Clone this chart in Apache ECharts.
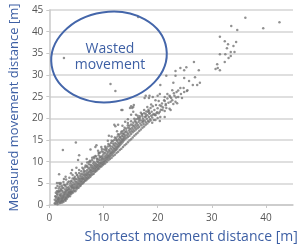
<!DOCTYPE html>
<html><head><meta charset="utf-8">
<script src="https://cdn.jsdelivr.net/npm/echarts@6/dist/echarts.min.js"></script>
<style>html,body{margin:0;padding:0;background:#fff}#c{width:300px;height:252px}</style>
</head><body><div id="c"></div>
<script>
var xTicks = [0, 10, 20, 30, 40];
var yTicks = [0, 5, 10, 15, 20, 25, 30, 35, 40, 45];
var xName = 'Shortest movement distance [m]';
var yName = 'Measured movement distance [m]';
var noteText = ['Wasted', 'movement'];

// main band of trips (shortest vs measured)
var bandPoints = [
[1.0,0.4],[1.0,1.2],[1.1,2.0],[1.2,0.8],[1.2,2.8],[1.3,1.5],[1.4,0.5],[1.4,3.2],[1.5,1.1],[1.5,2.3],[1.6,0.7],[1.6,1.8],[1.7,2.9],[1.7,3.8],[1.8,0.9],[1.8,1.6],[1.9,2.4],[1.9,4.2],[2.0,0.6],[2.0,1.3],[2.0,3.1],[2.1,2.0],[2.1,3.7],[2.2,0.9],[2.2,1.7],[2.2,2.6],[2.3,4.4],[2.3,1.2],[2.4,2.2],[2.4,3.3],[2.5,1.0],[2.5,1.8],[2.5,2.9],[2.6,3.9],[2.6,1.5],[2.7,2.4],[2.7,4.7],[2.8,1.9],[2.8,3.0],[2.9,1.3],[2.9,3.6],[3.0,2.2],[3.0,2.8],[3.0,4.3],[3.1,1.7],[3.1,3.2],[3.2,2.5],[3.2,3.9],[3.3,2.0],[3.3,4.8],[3.4,2.9],[3.4,3.5],[3.5,2.3],[3.5,4.1],[3.6,3.0],[3.6,5.4],[3.7,2.7],[3.7,3.8],[3.8,4.5],[3.8,3.2],[3.9,2.9],[3.9,5.0],[4.0,3.5],[4.0,4.2],[4.1,3.0],[4.1,5.6],[4.2,3.9],[4.2,4.7],[4.3,3.3],[4.3,6.1],[4.4,4.1],[4.4,5.2],[4.5,3.7],[4.5,4.6],[4.6,5.8],[4.6,4.0],[4.7,4.9],[4.7,6.5],[4.8,4.3],[4.8,5.4],[4.9,3.9],[4.9,6.0],[5.0,4.7],[5.0,5.3],[5.1,4.2],[5.1,7.0],[5.2,5.0],[5.2,5.9],[5.3,4.5],[5.3,6.4],[5.4,5.5],[5.4,4.9],[5.5,6.1],[5.5,7.4],[5.6,5.2],[5.6,5.8],[5.7,4.8],[5.7,6.7],[5.8,5.6],[5.8,6.2],[5.9,7.8],[5.9,5.3],[6.0,6.0],[6.0,6.6],[6.1,5.5],[6.1,7.2],[6.2,6.3],[6.2,5.9],[6.3,6.9],[6.3,8.3],[6.4,6.1],[6.4,7.5],[6.5,5.8],[6.5,6.7],[6.6,7.1],[6.6,8.7],[6.7,6.4],[6.7,7.8],[6.8,6.9],[6.8,6.2],[6.9,7.4],[6.9,9.0],[7.0,6.8],[7.0,8.1],[7.1,7.2],[7.1,6.5],[7.2,7.7],[7.2,8.6],[7.3,7.0],[7.3,9.4],[7.4,7.5],[7.4,8.3],[7.5,6.9],[7.5,7.9],[7.6,8.7],[7.6,10.0],[7.7,7.4],[7.7,8.1],[7.8,9.1],[7.8,7.8],[7.9,8.5],[7.9,10.4],[8.0,7.7],[8.0,8.9],[8.1,8.2],[8.1,9.6],[8.2,7.9],[8.2,8.6],[8.3,9.3],[8.3,10.8],[8.4,8.4],[8.4,9.0],[8.5,9.7],[8.5,8.1],[8.6,8.8],[8.6,11.2],[8.7,9.4],[8.7,8.5],[8.8,10.1],[8.8,9.1],[8.9,8.7],[8.9,10.6],[9.0,9.3],[9.0,9.9],[9.1,8.9],[9.1,11.5],[9.2,9.6],[9.2,10.4],[9.3,9.1],[9.3,10.9],[9.4,9.8],[9.4,12.1],[9.5,9.4],[9.5,10.3],[9.6,11.0],[9.6,9.7],[9.7,10.6],[9.7,12.4],[9.8,10.0],[9.8,11.3],[9.9,9.6],[9.9,10.8],[10.0,10.3],[10.0,11.7],[10.1,9.9],[10.1,12.8],
[10.2,10.6],[10.2,11.2],[10.3,10.1],[10.3,12.0],[10.4,10.9],[10.4,13.2],[10.5,10.4],[10.5,11.5],[10.6,11.0],[10.6,12.4],[10.7,10.7],[10.7,11.8],[10.8,11.3],[10.8,13.5],[10.9,10.9],[10.9,12.2],[11.0,11.5],[11.0,12.7],[11.1,11.1],[11.1,13.9],[11.2,11.8],[11.2,12.4],[11.3,11.3],[11.3,13.1],[11.4,12.0],[11.4,14.3],[11.5,11.6],[11.5,12.8],[11.6,12.3],[11.6,13.5],[11.7,11.9],[11.7,14.7],[11.8,12.6],[11.8,13.2],[11.9,12.2],[11.9,13.9],[12.0,12.9],[12.0,15.0],[12.1,12.5],[12.1,13.6],[12.2,13.1],[12.2,14.3],[12.3,12.7],[12.3,15.4],[12.4,13.4],[12.4,14.0],[12.5,13.0],[12.5,14.8],[12.6,13.7],[12.6,15.8],[12.7,13.3],[12.7,14.4],[12.8,14.0],[12.8,15.2],[12.9,13.6],[12.9,16.2],[13.0,14.3],[13.0,14.9],[13.1,13.9],[13.1,15.6],[13.2,14.6],[13.2,16.5],[13.3,14.2],[13.3,15.3],[13.4,14.9],[13.4,16.0],[13.5,14.5],[13.5,17.0],[13.6,15.2],[13.6,15.8],[13.7,14.8],[13.7,16.4],[13.8,15.5],[13.8,17.3],[13.9,15.1],[13.9,16.2],[14.0,15.8],[14.0,16.8],[14.2,15.4],[14.2,17.6],[14.3,16.1],[14.4,16.7],[14.5,15.7],[14.5,17.9],[14.6,16.4],[14.7,17.2],[14.8,16.0],[14.8,18.3],[14.9,16.8],[15.0,17.5],[15.1,16.4],[15.1,18.6],[15.2,17.1],[15.3,17.8],[15.4,16.8],[15.5,19.0],[15.5,17.4],[15.6,18.2],[15.7,17.1],[15.8,19.4],[15.8,17.8],[15.9,18.5],[16.0,17.4],[16.1,19.8],[16.1,18.1],[16.2,18.8],[16.3,17.7],[16.4,20.1],[16.4,18.4],[16.5,19.2],[16.6,18.0],[16.7,20.5],[16.8,18.8],[16.9,19.5],[17.0,18.4],[17.1,20.8],[17.2,19.1],[17.3,19.9],[17.4,18.7],[17.5,21.2],[17.6,19.5],[17.7,20.3],[17.8,19.1],[17.9,21.6],[18.0,19.9],[18.1,20.7],[18.2,19.4],[18.3,22.0],[18.4,20.3],[18.5,21.1],[18.6,19.8],[18.7,22.4],[18.8,20.6],[18.9,21.5],[19.0,20.2],[19.1,22.8],[19.3,21.0],[19.4,21.9],[19.6,20.7],[19.7,23.1],[19.9,21.4],[20.0,22.3],[20.2,21.2],[20.4,23.0],[20.6,22.0],[20.8,23.4],[21.0,22.5],[21.2,24.2],[21.5,23.0],[21.8,24.6],[22.0,23.6],[22.3,25.0],[22.7,24.2],[23.0,25.8],[23.4,24.8],[23.8,26.4],[24.3,25.6],[24.8,27.0],[25.4,26.3]
];

// lower and upper edges of the band
var bandEdgePoints = [
[1.1,0.3],[1.3,0.9],[1.5,0.2],[1.7,1.2],[1.9,0.4],[2.1,0.8],[2.3,0.5],[2.4,1.5],[2.6,0.7],[2.8,1.1],[3.0,1.0],[3.2,1.4],[3.4,1.8],[3.6,2.1],[3.8,2.0],[4.0,2.5],[4.2,2.8],[4.4,2.9],[4.6,3.3],[4.8,3.2],[5.0,3.6],[5.2,3.9],[5.4,4.0],[5.6,4.3],[5.8,4.5],[6.0,4.9],[6.2,5.0],[6.4,5.3],[6.6,5.6],[6.8,5.7],[7.0,6.0],[7.2,6.2],[7.4,6.4],[7.6,6.6],[7.8,6.9],[8.0,7.1],[8.2,7.2],[8.4,7.6],[8.6,7.8],[8.8,8.0],[9.0,8.3],[9.2,8.4],[9.4,8.8],[9.6,8.9],[9.8,9.2],[10.0,9.4],[10.3,9.6],[10.6,9.9],[10.9,10.3],[11.2,10.6],[11.5,10.9],[11.8,11.3],[12.1,11.6],[12.4,12.0],[12.7,12.3],[13.0,12.7],[13.3,13.0],[13.6,13.4],[13.9,13.8],[14.2,14.1],[14.5,14.5],[14.8,14.9],[15.1,15.2],[15.4,15.6],[15.7,16.0],[16.0,16.3],[16.3,16.7],[16.6,17.1],[16.9,17.4],[17.2,17.8],[17.5,18.1],[17.8,18.5],[18.1,18.8],[18.4,19.2],[18.7,19.5],[19.0,19.0],[19.3,19.6],
[1.2,3.9],[1.5,4.4],[1.6,3.1],[2.0,4.8],[2.4,4.0],[2.6,5.3],[2.9,4.6],[3.1,5.9],[3.4,5.2],[3.7,6.3],[4.0,5.4],[4.3,6.9],[4.6,6.2],[4.9,7.4],[5.2,6.8],[5.5,8.1],[5.8,7.1],[6.1,8.6],[6.4,7.9],[6.7,9.1],[7.0,8.8],[7.3,9.9],[7.6,9.3],[7.9,10.9],[8.2,10.0],[8.5,11.3],[8.8,10.7],[9.1,12.0],[9.4,11.2],[9.7,12.9],[10.0,12.2],[10.3,13.5],[10.6,13.0],[10.9,14.1],[11.2,13.6],[11.5,14.8],[11.8,14.2],[12.1,15.6],[12.4,15.0],[12.7,16.3],[13.0,15.7],[13.3,16.9],[13.6,16.5],[13.9,17.8],[14.2,17.0],[14.5,18.4],[14.8,17.7],[15.1,19.3],[15.4,18.4],[15.7,19.9],[16.0,19.1],[16.3,20.6],[16.6,19.7],[16.9,21.3],[17.2,20.4],[17.5,21.9],[17.8,21.0],[18.1,22.6],[18.4,21.7],[18.8,23.2],
[1.2,1.9],[1.4,2.6],[1.6,1.4],[1.8,3.3],[2.0,2.2],[2.2,3.4],[2.4,0.9],[2.6,2.1],[2.8,2.6],[3.0,1.6],[3.2,3.4],[3.4,2.4],[3.6,3.6],[3.8,2.6],[4.0,3.0],[4.2,4.3]
];

// scattered points above the band
var scatterPoints = [
[1.4,5.1],[1.8,5.1],[2.1,5.1],[1.8,7.1],[4.2,8.1],[2.5,12.7],[4.9,14.4],[5.3,10.4],[5.5,11.5],[6.9,10.6],[7.5,10.2],[7.6,12.8],[8.5,13.4],[8.7,13.8],[9.2,12.0],[8.2,11.1],[10.4,12.7],[9.6,13.4],[12.2,18.2],[12.0,18.5],[12.7,18.5],[11.0,16.0],
[6.0,9.5],[3.0,6.5],[4.0,7.3],[2.7,6.0],[5.0,8.6],[7.0,9.8],[9.0,12.5],[10.8,14.8],[11.5,15.8],[12.5,17.0],[13.5,18.3],[14.0,19.2],[14.5,19.8],[13.3,21.9],[13.5,21.9],[14.9,22.4],[15.5,22.6],[15.1,20.8],[15.1,22.8],[15.5,21.5],[16.0,20.8],[17.1,21.0],[17.8,20.5],[18.5,21.2],[16.7,20.1],[17.3,19.4],[14.5,18.9],[17.6,24.7],[18.4,24.7],[17.8,25.2],[18.5,25.2],[19.1,24.9],[20.0,25.2],[21.3,24.9],[15.6,23.1],[15.3,22.4],[20.9,21.9],[21.8,25.6],[18.2,21.5],[19.1,20.8]
];

// long trips (upper right) and wasted-movement outliers
var farPoints = [
[36.2,43.2],[33.6,41.3],[34.7,40.4],[39.5,40.8],[42.5,42.2],[31.5,38.8],[32.4,37.8],[34.5,37.6],[33.0,37.1],[32.8,36.2],[34.0,36.7],[33.5,35.3],[34.2,35.3],[31.5,34.8],[32.5,34.8],[33.5,34.4],[33.1,33.9],[32.4,33.0],[31.0,32.5],[30.7,31.4],[31.1,31.6],[31.5,31.1],
[26.7,33.0],[25.3,31.8],[24.2,31.6],[24.9,31.1],[27.6,31.1],[23.3,30.9],[23.3,29.8],[21.6,29.8],[26.9,29.5],[24.9,29.3],[22.9,28.2],[27.8,28.2],[25.8,28.6],[26.5,27.7],[27.3,27.7],[20.5,27.7],[24.2,27.0],[25.5,26.5],[22.7,26.5],[24.9,26.1],[23.5,26.1],[20.4,25.6],[23.1,25.2],[22.2,25.2],[22.5,24.7],[23.8,24.9],[24.5,24.7],[19.6,24.2],[20.2,24.0],[21.3,24.0],[21.5,23.3],[22.4,23.8],[22.9,23.3],[23.3,23.8],[23.6,23.5],[20.7,22.8],[21.6,22.4],[22.2,22.2],[22.4,21.9],[21.3,21.7],[20.4,21.5],[19.8,21.2],[19.5,20.8],[20.5,20.3],[21.3,20.3],[20.0,20.1],[19.6,19.6],[20.4,19.4],
[2.7,33.9],[11.3,27.9],[12.2,26.3],[16.4,43.4]
];

var allPoints = bandPoints.concat(bandEdgePoints, scatterPoints, farPoints);

var chart = echarts.init(document.getElementById('c'), null, {renderer: 'canvas'});
var blue = '#3d5fa4';
chart.setOption({
  animation: false,
  grid: {left: 45, right: 7, top: 10, bottom: 47},
  xAxis: {
    type: 'value', min: 0, max: 45, interval: 10,
    name: xName, nameLocation: 'middle', nameGap: 25,
    nameTextStyle: {color: blue, fontSize: 14, fontFamily: 'Open Sans', padding: [0, 0, 0, 40]},
    axisLine: {show: true, lineStyle: {color: '#c8c8c8', width: 1.5}},
    axisTick: {show: true, length: 3, lineStyle: {color: '#c8c8c8'}},
    axisLabel: {color: '#555', fontSize: 10, fontFamily: 'Open Sans', margin: 8, showMaxLabel: false,
      formatter: function (v) { return xTicks.indexOf(v) >= 0 ? String(v) : ''; }},
    splitLine: {show: false}
  },
  yAxis: {
    type: 'value', min: 0, max: 45, interval: 5,
    name: yName, nameLocation: 'middle', nameGap: 28,
    nameTextStyle: {color: blue, fontSize: 13, fontFamily: 'Open Sans'},
    axisLine: {show: true, lineStyle: {color: '#c8c8c8', width: 1.5}},
    axisTick: {show: true, length: 3, lineStyle: {color: '#c8c8c8'}},
    axisLabel: {color: '#555', fontSize: 10, fontFamily: 'Open Sans', margin: 6,
      formatter: function (v) { return yTicks.indexOf(v) >= 0 ? String(v) : ''; }},
    splitLine: {show: true, lineStyle: {color: '#d4d4d4', width: 1.5}}
  },
  series: [{
    type: 'scatter', data: allPoints, symbolSize: 2.5,
    itemStyle: {color: '#767676'}
  }],
  graphic: [
    {type: 'ellipse', shape: {cx: 0, cy: 0, rx: 58, ry: 45}, x: 109, y: 57, rotation: 0.15,
     style: {fill: 'none', stroke: '#4466aa', lineWidth: 2}, z: 10},
    {type: 'text', x: 110, y: 57, z: 11,
     style: {text: noteText.join('\n'), fill: blue, font: '14px "Open Sans"', textAlign: 'center', textVerticalAlign: 'middle', lineHeight: 16}}
  ]
});
</script></body></html>
